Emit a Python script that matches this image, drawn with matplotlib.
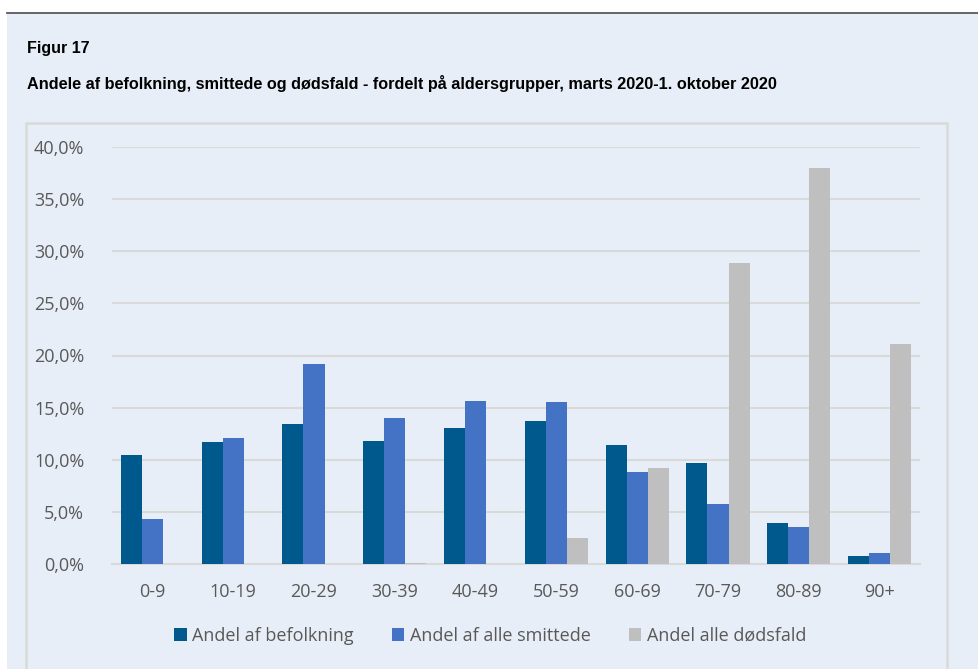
import numpy as np
import matplotlib.pyplot as plt
from matplotlib.patches import Rectangle

# Data (percent)
age_groups = ["0-9", "10-19", "20-29", "30-39", "40-49",
              "50-59", "60-69", "70-79", "80-89", "90+"]
befolkning = [10.5, 11.7, 13.4, 11.8, 13.0, 13.7, 11.4, 9.7, 3.9, 0.8]
smittede = [4.3, 12.1, 19.2, 14.0, 15.6, 15.5, 8.8, 5.8, 3.55, 1.05]
doedsfald = [0.0, 0.0, 0.0, 0.1, 0.0, 2.5, 9.2, 28.9, 38.0, 21.1]
series_names = ["Andel af befolkning", "Andel af alle smittede", "Andel alle dødsfald"]
yticks = [0, 5, 10, 15, 20, 25, 30, 35, 40]

colors = ["#00598C", "#4472C4", "#BFBFBF"]
bg = "#E8EEF7"
W, H = 979, 669

plt.rcParams["font.family"] = ["Open Sans", "DejaVu Sans"]

fig = plt.figure(figsize=(W / 100, H / 100), dpi=100, facecolor="white")

# background panel and top rule
fig.patches.append(Rectangle((7 / W, 0), 1, 1 - 13 / H, transform=fig.transFigure,
                             facecolor=bg, edgecolor="none", zorder=-5))
fig.add_artist(plt.Line2D([7 / W, 1], [1 - 13 / H, 1 - 13 / H], color="#595959", lw=1.3))
# chart box
fig.patches.append(Rectangle((26 / W, -0.01), (947 - 26) / W, 1 - 123 / H + 0.01,
                             transform=fig.transFigure, facecolor="none",
                             edgecolor="#D9D9D9", lw=1.8, zorder=-4))

title_font = ["Liberation Sans Narrow", "Liberation Sans"]
fig.text(27 / W, 1 - 48 / H, "Figur 17", fontsize=11.5, fontweight="bold",
         family=title_font, va="center", color="black")
fig.text(27 / W, 1 - 83 / H,
         "Andele af befolkning, smittede og dødsfald - fordelt på aldersgrupper, marts 2020-1. oktober 2020",
         fontsize=11.7, fontweight="bold", family=title_font, va="center", color="black")

ax = fig.add_axes([112 / W, 1 - 564 / H, (920 - 112) / W, (564 - 147) / H], zorder=2)
ax.set_facecolor("none")

x = np.arange(len(age_groups))
w = 0.26
for i, (vals, name) in enumerate(zip([befolkning, smittede, doedsfald], series_names)):
    ax.bar(x + (i - 1) * w, vals, width=w, color=colors[i], label=name, zorder=3)

ax.set_xlim(-0.5, len(age_groups) - 0.5)
ax.set_ylim(0, 40)
ax.set_yticks(yticks)
ax.set_yticklabels([f"{v:.1f}%".replace(".", ",") for v in yticks])
ax.set_xticks(x)
ax.set_xticklabels(age_groups)
ax.tick_params(length=0, labelsize=13, labelcolor="#595959")
ax.tick_params(axis="y", pad=20)
ax.tick_params(axis="x", pad=14)
ax.grid(axis="y", color="#D9D9D9", lw=1.5, zorder=0)
ax.set_axisbelow(True)
for s in ["top", "right", "left"]:
    ax.spines[s].set_visible(False)
ax.spines["bottom"].set_color("#D9D9D9")
ax.spines["bottom"].set_linewidth(1.5)

leg = fig.legend(loc="center", bbox_to_anchor=(490 / W, 1 - 636 / H), ncol=3,
                 frameon=False, fontsize=13, handlelength=0.7, handleheight=0.7,
                 handletextpad=0.3, columnspacing=2.1)
for t in leg.get_texts():
    t.set_color("#595959")

fig.savefig("out.png", dpi=100, facecolor=fig.get_facecolor())
